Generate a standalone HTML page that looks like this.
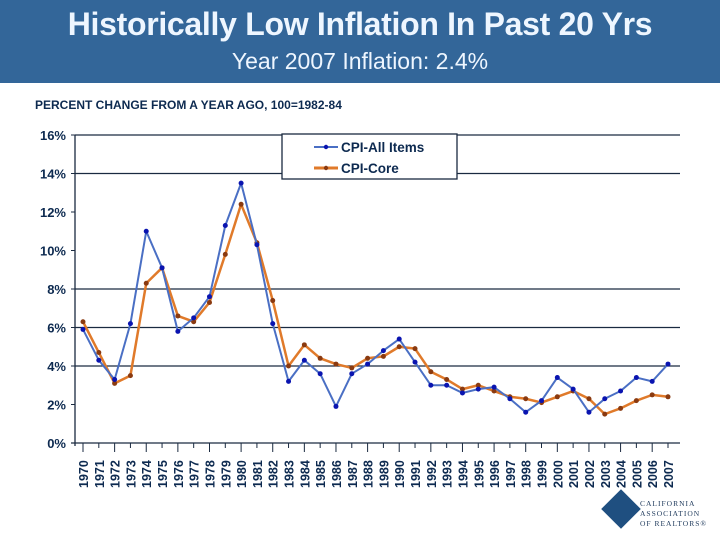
<!DOCTYPE html>
<html><head><meta charset="utf-8"><style>
body{margin:0;width:720px;height:540px;background:#fff;font-family:"Liberation Sans",Arial,sans-serif;overflow:hidden}
</style></head><body>
<div style="position:absolute;left:0;top:0;width:720px;height:83px;background:#336699"></div>
<div style="position:absolute;left:0;top:6px;width:720px;text-align:center;color:#eef6ff;font-weight:bold;font-size:32px;letter-spacing:-0.3px">Historically Low Inflation In Past 20 Yrs</div>
<div style="position:absolute;left:0;top:48px;width:720px;text-align:center;color:#eef6ff;font-size:23px">Year 2007 Inflation: 2.4%</div>
<div style="position:absolute;left:35px;top:98px;color:#0d2a50;font-weight:bold;font-size:12px">PERCENT CHANGE FROM A YEAR AGO, 100=1982-84</div>
<svg id="chart" width="720" height="540" style="position:absolute;left:0;top:0"></svg>
<div style="position:absolute;left:607px;top:495px;width:28px;height:28px;background:#1f4f80;transform:rotate(45deg)"></div>
<div style="position:absolute;left:640px;top:499px;font-family:'Liberation Serif',serif;font-size:7.5px;line-height:10px;color:#1f3a5c;letter-spacing:1px">CALIFORNIA<br>ASSOCIATION<br>OF REALTORS®</div>
<script>
const years=[1970,1971,1972,1973,1974,1975,1976,1977,1978,1979,1980,1981,1982,1983,1984,1985,1986,1987,1988,1989,1990,1991,1992,1993,1994,1995,1996,1997,1998,1999,2000,2001,2002,2003,2004,2005,2006,2007];
const cpiAll=[5.9,4.3,3.3,6.2,11.0,9.1,5.8,6.5,7.6,11.3,13.5,10.3,6.2,3.2,4.3,3.6,1.9,3.6,4.1,4.8,5.4,4.2,3.0,3.0,2.6,2.8,2.9,2.3,1.6,2.2,3.4,2.8,1.6,2.3,2.7,3.4,3.2,4.1];
const cpiCore=[6.3,4.7,3.1,3.5,8.3,9.1,6.6,6.3,7.3,9.8,12.4,10.4,7.4,4.0,5.1,4.4,4.1,3.9,4.4,4.5,5.0,4.9,3.7,3.3,2.8,3.0,2.7,2.4,2.3,2.1,2.4,2.7,2.3,1.5,1.8,2.2,2.5,2.4];
const yTicks=[0,2,4,6,8,10,12,14,16];
const gridVals=[4,6,8,14,16];
const svg=document.getElementById('chart');const NS='http://www.w3.org/2000/svg';
const x0=75,x1=680,y0=443,y1=135;
const xs=i=>83+i*(668-83)/(years.length-1);
const ys=v=>y0-(v/16)*(y0-y1);
function el(t,a){const e=document.createElementNS(NS,t);for(const k in a)e.setAttribute(k,a[k]);svg.appendChild(e);return e;}
gridVals.forEach(v=>{const g=el('line',{x1:x0,x2:x1,y1:ys(v),y2:ys(v),stroke:'#1a2a40','stroke-width':1.3});

});
const ya=el('line',{x1:x0,x2:x0,y1:y1,y2:y0+3,stroke:'#1a2a40','stroke-width':1.3});


const xa=el('line',{x1:x0-4,x2:x1,y1:y0,y2:y0,stroke:'#1a2a40','stroke-width':1.3});


yTicks.forEach(v=>{el('line',{x1:x0-4,x2:x0,y1:ys(v),y2:ys(v),stroke:'#1a2a40'});
const t=el('text',{x:66,y:ys(v)+5,'text-anchor':'end','font-size':13,'font-weight':'bold',fill:'#0d2a50','font-family':'Liberation Sans, sans-serif'});t.textContent=v+'%';

});
years.forEach((y,i)=>{const x=xs(i);el('line',{x1:x,x2:x,y1:y0,y2:y0+(i%2?5:9),stroke:'#1a2a40'});
const t=el('text',{x:0,y:0,transform:`translate(${x+5},488) rotate(-90)`,'font-size':12.5,'font-weight':'bold',fill:'#0d2a50','font-family':'Liberation Sans, sans-serif'});t.textContent=y;

});
function series(vals,color,dot,w,name){const p=el('polyline',{points:vals.map((v,i)=>xs(i)+','+ys(v)).join(' '),fill:'none',stroke:color,'stroke-width':w,'stroke-linejoin':'round'});


vals.forEach((v,i)=>{const c=el('circle',{cx:xs(i),cy:ys(v),r:2.5,fill:dot});

});}
series(cpiCore,'#e07a2a','#8a3a10',2.5,'cpi-core');
series(cpiAll,'#4a6fc4','#0a14b0',2,'cpi-all');
const lb=el('rect',{x:282,y:134,width:175,height:45,fill:'#fff',stroke:'#1a2a40','stroke-width':1.3});


[['CPI-All Items','#4a6fc4','#0a14b0',147,2],['CPI-Core','#e07a2a','#8a3a10',168,3]].forEach(([n,c,d,y,w])=>{
el('line',{x1:314,x2:338,y1:y,y2:y,stroke:c,'stroke-width':w});el('circle',{cx:326,cy:y,r:2.2,fill:d});
const t=el('text',{x:341,y:y+5,'font-size':13.5,'font-weight':'bold',fill:'#0d2a50','font-family':'Liberation Sans, sans-serif'});t.textContent=n;

});
</script>
</body></html>
